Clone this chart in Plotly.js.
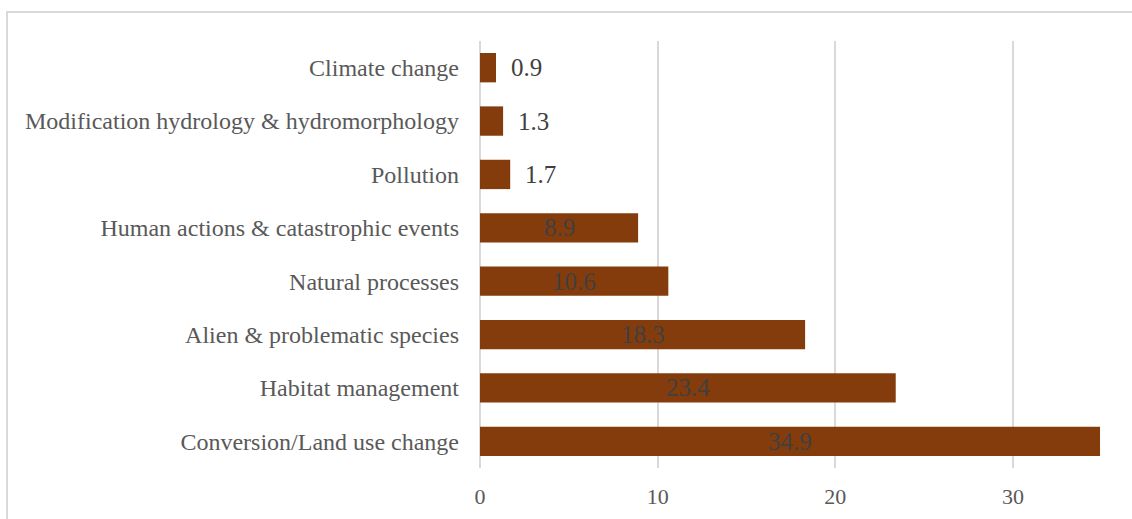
<!DOCTYPE html>
<html>
<head>
<meta charset="utf-8">
<script src="https://cdn.plot.ly/plotly-3.0.1.min.js"></script>
<style>
html,body{margin:0;padding:0;background:#fff;overflow:hidden;}
#chart{width:1132px;height:519px;}
</style>
</head>
<body>
<div id="chart"></div>
<script>
const categories = [
  "Climate change",
  "Modification hydrology & hydromorphology",
  "Pollution",
  "Human actions & catastrophic events",
  "Natural processes",
  "Alien & problematic species",
  "Habitat management",
  "Conversion/Land use change"
];
const values = [0.9, 1.3, 1.7, 8.9, 10.6, 18.3, 23.4, 34.9];
const xTicks = [0, 10, 20, 30];

const SERIF = '"Liberation Serif", "Times New Roman", serif';
const threshold = 5;

const annotations = values.map((v, i) => {
  const outside = v < threshold;
  return {
    x: outside ? v : v / 2,
    y: categories[i],
    xref: 'x', yref: 'y',
    text: v.toFixed(1),
    showarrow: false,
    xanchor: outside ? 'left' : 'center',
    yanchor: 'middle',
    xshift: outside ? 13 : 0,
    font: {family: SERIF, size: 25, color: '#404040'}
  };
});

const trace = {
  type: 'bar',
  orientation: 'h',
  x: values,
  y: categories,
  marker: {color: '#843C0C'},
  hoverinfo: 'none'
};

const layout = {
  width: 1132,
  height: 519,
  margin: {l: 480, r: 0, t: 41, b: 51, pad: 0},
  paper_bgcolor: '#ffffff',
  plot_bgcolor: '#ffffff',
  showlegend: false,
  bargap: 0.45,
  font: {family: SERIF},
  xaxis: {
    range: [0, 36.7],
    tickvals: xTicks,
    ticktext: xTicks.map(String),
    showgrid: true,
    gridcolor: '#d9d9d9',
    gridwidth: 2,
    zeroline: true,
    zerolinecolor: '#d9d9d9',
    zerolinewidth: 2,
    showline: false,
    ticks: '',
    ticklabelstandoff: 13,
    tickfont: {family: SERIF, size: 22, color: '#595959'},
    fixedrange: true
  },
  yaxis: {
    type: 'category',
    autorange: 'reversed',
    showgrid: false,
    zeroline: false,
    showline: false,
    ticks: '',
    ticklabelstandoff: 20,
    tickfont: {family: SERIF, size: 24, color: '#595959'},
    fixedrange: true
  },
  annotations: annotations,
  shapes: [{
    type: 'rect', xref: 'paper', yref: 'paper',
    x0: (7 - 480) / 652, x1: 1.2,
    y0: -0.3, y1: 1 + (41 - 12) / 427,
    line: {color: '#d9d9d9', width: 2},
    fillcolor: 'rgba(0,0,0,0)',
    layer: 'below'
  }]
};

Plotly.newPlot('chart', [trace], layout, {displayModeBar: false, staticPlot: true});
</script>
</body>
</html>
